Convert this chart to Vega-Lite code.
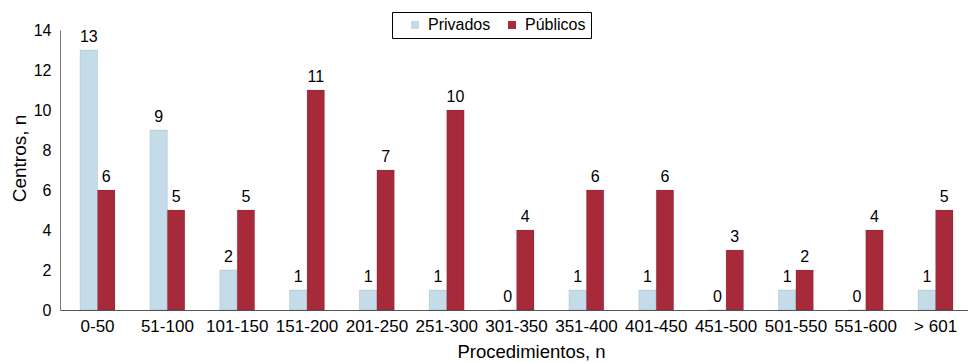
{
  "$schema": "https://vega.github.io/schema/vega-lite/v6.json",
  "autosize": "none",
  "width": 908,
  "height": 280,
  "padding": {"left": 60, "top": 30, "right": 0, "bottom": 53},
  "background": "white",
  "config": {
    "font": "Liberation Sans",
    "view": {"stroke": null}
  },
  "data": {
    "values": [
      {"rango": "0-50", "tipo": "Privados", "n": 13},
      {"rango": "0-50", "tipo": "Públicos", "n": 6},
      {"rango": "51-100", "tipo": "Privados", "n": 9},
      {"rango": "51-100", "tipo": "Públicos", "n": 5},
      {"rango": "101-150", "tipo": "Privados", "n": 2},
      {"rango": "101-150", "tipo": "Públicos", "n": 5},
      {"rango": "151-200", "tipo": "Privados", "n": 1},
      {"rango": "151-200", "tipo": "Públicos", "n": 11},
      {"rango": "201-250", "tipo": "Privados", "n": 1},
      {"rango": "201-250", "tipo": "Públicos", "n": 7},
      {"rango": "251-300", "tipo": "Privados", "n": 1},
      {"rango": "251-300", "tipo": "Públicos", "n": 10},
      {"rango": "301-350", "tipo": "Privados", "n": 0},
      {"rango": "301-350", "tipo": "Públicos", "n": 4},
      {"rango": "351-400", "tipo": "Privados", "n": 1},
      {"rango": "351-400", "tipo": "Públicos", "n": 6},
      {"rango": "401-450", "tipo": "Privados", "n": 1},
      {"rango": "401-450", "tipo": "Públicos", "n": 6},
      {"rango": "451-500", "tipo": "Privados", "n": 0},
      {"rango": "451-500", "tipo": "Públicos", "n": 3},
      {"rango": "501-550", "tipo": "Privados", "n": 1},
      {"rango": "501-550", "tipo": "Públicos", "n": 2},
      {"rango": "551-600", "tipo": "Privados", "n": 0},
      {"rango": "551-600", "tipo": "Públicos", "n": 4},
      {"rango": "> 601", "tipo": "Privados", "n": 1},
      {"rango": "> 601", "tipo": "Públicos", "n": 5}
    ]
  },
  "encoding": {
    "x": {
      "field": "rango",
      "type": "nominal",
      "sort": null,
      "scale": {"paddingInner": 0.5, "paddingOuter": 0.2508, "align": 0.573},
      "axis": {
        "title": "Procedimientos, n",
        "titleFontSize": 18.5,
        "titleFontWeight": "normal",
        "titleColor": "black",
        "titleX": 471,
        "titleY": 47,
        "titleAlign": "center",
        "titleBaseline": "alphabetic",
        "labelAngle": 0,
        "labelFontSize": 17,
        "labelColor": "black",
        "labelPadding": 8,
        "ticks": false,
        "domainColor": "#555555",
        "domainWidth": 1.2
      }
    },
    "xOffset": {
      "field": "tipo",
      "type": "nominal",
      "sort": ["Privados", "Públicos"],
      "scale": {"paddingInner": 0, "paddingOuter": 0}
    },
    "y": {
      "field": "n",
      "type": "quantitative",
      "scale": {"domain": [0, 14]},
      "axis": {
        "title": "Centros, n",
        "titleFontSize": 19,
        "titleFontWeight": "normal",
        "titleColor": "black",
        "titleX": -35,
        "titleY": 128,
        "titleAngle": -90,
        "titleAlign": "center",
        "titleBaseline": "alphabetic",
        "values": [0, 2, 4, 6, 8, 10, 12, 14],
        "labelFontSize": 16,
        "labelColor": "black",
        "labelPadding": 9,
        "ticks": false,
        "grid": false,
        "domainColor": "#777777"
      }
    }
  },
  "layer": [
    {
      "mark": {"type": "bar", "stroke": "#00000030", "strokeWidth": 0.5},
      "encoding": {
        "color": {
          "field": "tipo",
          "type": "nominal",
          "scale": {"domain": ["Privados", "Públicos"], "range": ["#c4dcea", "#a72a3b"]},
          "legend": {
            "title": null,
            "orient": "none",
            "legendX": 332,
            "legendY": -18,
            "direction": "horizontal",
            "symbolType": "square",
            "symbolSize": 64,
            "symbolStrokeWidth": 0,
            "symbolOffset": 10,
            "labelOffset": 5,
            "labelFontSize": 16,
            "labelColor": "black",
            "strokeColor": "black",
            "padding": 5,
            "columnPadding": 3,
            "fillColor": "white"
          }
        }
      }
    },
    {
      "mark": {"type": "text", "baseline": "alphabetic", "dy": -8, "fontSize": 16, "color": "black"},
      "encoding": {"text": {"field": "n", "type": "quantitative"}}
    }
  ]
}
